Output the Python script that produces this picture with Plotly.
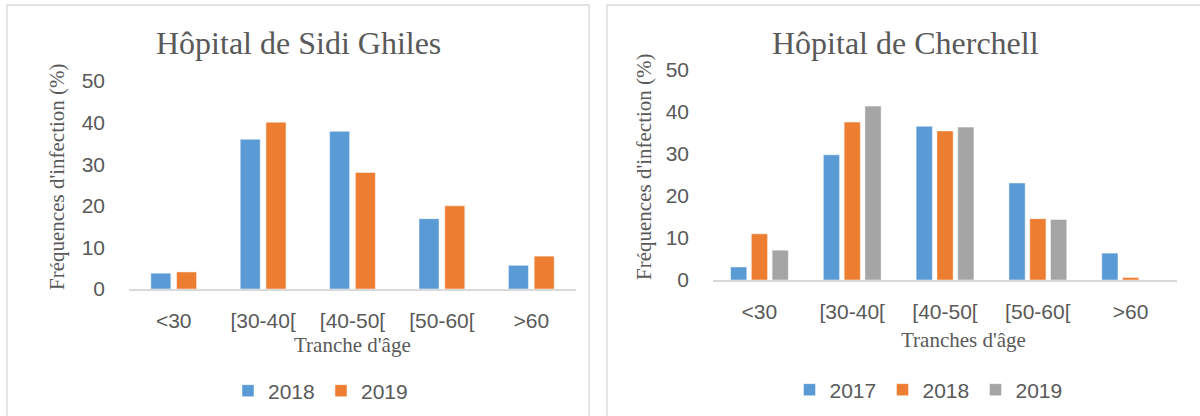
import plotly.graph_objects as go

W, H = 1200, 416

categories = ["<30", "[30-40[", "[40-50[", "[50-60[", ">60"]

# Hôpital de Sidi Ghiles
sg_2018 = [3.8, 36.0, 37.9, 16.9, 5.7]
sg_2019 = [4.1, 40.1, 28.0, 20.0, 7.9]

# Hôpital de Cherchell
ch_2017 = [3.1, 29.8, 36.6, 23.1, 6.4]
ch_2018 = [11.0, 37.6, 35.5, 14.6, 0.6]
ch_2019 = [7.1, 41.4, 36.4, 14.4, 0.0]

y_ticks = [0, 10, 20, 30, 40, 50]

BLUE, ORANGE, GRAY = "#5B9BD5", "#ED7D31", "#A5A5A5"
TXT = "#595959"
SERIF = "Liberation Serif, Times New Roman, serif"
SANS = "Liberation Sans, Arial, sans-serif"


def px(x):
    return x / W


def py(y):
    return 1 - y / H


fig = go.Figure()

# left panel: bar width / offsets in category units
LW = 0.224
left_series = [("2018", sg_2018, BLUE, -0.256), ("2019", sg_2019, ORANGE, 0.032)]
for name, vals, col, off in left_series:
    fig.add_trace(go.Bar(x=categories, y=vals, name=name, marker_color=col,
                         marker_line=dict(color="rgba(255,255,255,0.6)", width=0.8),
                         width=LW, offset=off, xaxis="x", yaxis="y",
                         legend="legend"))

RW = 0.175
right_series = [("2017", ch_2017, BLUE, -0.311), ("2018", ch_2018, ORANGE, -0.087),
                ("2019", ch_2019, GRAY, 0.137)]
for name, vals, col, off in right_series:
    fig.add_trace(go.Bar(x=categories, y=vals, name=name, marker_color=col,
                         marker_line=dict(color="rgba(255,255,255,0.6)", width=0.8),
                         width=RW, offset=off, xaxis="x2", yaxis="y2",
                         legend="legend2"))

xax = dict(showgrid=False, zeroline=False, showline=True, linecolor="#D9D9D9",
           linewidth=1.5, ticks="", tickfont=dict(family=SANS, size=21, color=TXT),
           ticklabelstandoff=12, fixedrange=True)
yax = dict(range=[0, 50], tickvals=y_ticks, showgrid=False, zeroline=False,
           showline=False, ticks="", tickfont=dict(family=SANS, size=21, color=TXT),
           ticklabelstandoff=23, fixedrange=True)

leg = dict(orientation="h", xanchor="center", yanchor="middle",
           xref="container", yref="container",
           font=dict(family=SANS, size=21, color=TXT), bgcolor="rgba(0,0,0,0)",
           entrywidth=48, itemclick=False, itemdoubleclick=False)

fig.update_layout(
    width=W, height=H,
    margin=dict(l=0, r=0, t=0, b=0, autoexpand=False),
    paper_bgcolor="white", plot_bgcolor="white",
    barmode="overlay",
    xaxis=dict(xax, domain=[px(129), px(576)], anchor="y"),
    yaxis=dict(yax, domain=[py(289), py(81)], anchor="x"),
    xaxis2=dict(xax, domain=[px(713), px(1177)], anchor="y2"),
    yaxis2=dict(yax, domain=[py(280), py(70)], anchor="x2"),
    legend=dict(leg, x=px(321), y=py(391)),
    legend2=dict(leg, x=px(929), y=py(390)),
    showlegend=True,
)

# Panel borders
fig.add_shape(type="rect", xref="paper", yref="paper", x0=px(7), x1=px(589),
              y0=py(430), y1=py(5), line=dict(color="#D9D9D9", width=1.3), layer="below")
fig.add_shape(type="rect", xref="paper", yref="paper", x0=px(607), x1=px(1215),
              y0=py(430), y1=py(5), line=dict(color="#D9D9D9", width=1.3), layer="below")

annos = [
    dict(text="Hôpital de Sidi Ghiles", x=px(298), y=py(43), size=32),
    dict(text="Hôpital de Cherchell", x=px(905), y=py(43), size=32),
    dict(text="Tranche d'âge", x=px(352), y=py(345), size=21),
    dict(text="Tranches d'âge", x=px(963), y=py(340), size=21),
    dict(text="Fréquences d'infection (%)", x=px(57), y=py(177), size=21, angle=-90),
    dict(text="Fréquences d'infection (%)", x=px(644), y=py(167), size=21, angle=-90),
]
for a in annos:
    fig.add_annotation(text=a["text"], x=a["x"], y=a["y"], xref="paper", yref="paper",
                       xanchor="center", yanchor="middle", showarrow=False,
                       textangle=a.get("angle", 0),
                       font=dict(family=SERIF, size=a["size"], color=TXT))

fig.write_html("out.html")
